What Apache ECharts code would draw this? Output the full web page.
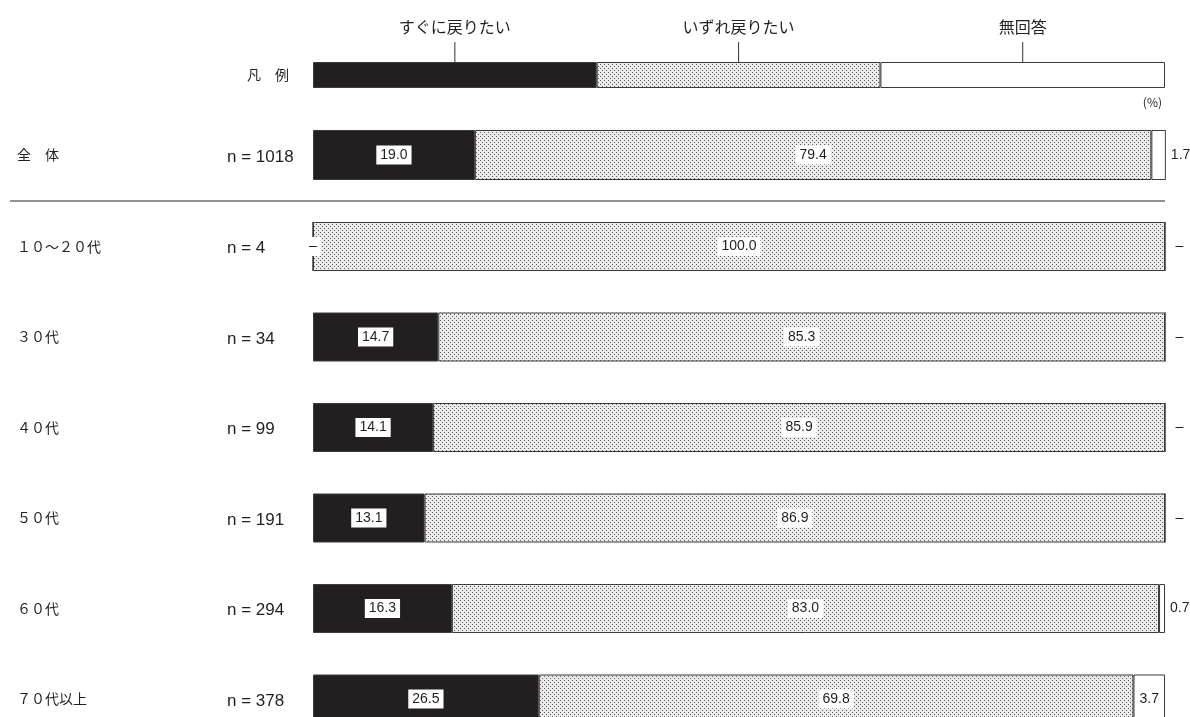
<!DOCTYPE html>
<html>
<head>
<meta charset="utf-8">
<script src="https://cdn.jsdelivr.net/npm/echarts@6/dist/echarts.min.js"></script>
<style>
html,body{margin:0;padding:0;background:#fff;}
#chart{width:1190px;height:717px;}
</style>
</head>
<body>
<div id="chart"></div>
<script>
// ---- data ----
const SERIES_NAMES = ['すぐに戻りたい', 'いずれ戻りたい', '無回答'];
const LEGEND_SHARE = [33.3, 33.3, 33.4];
const TOTAL_LABEL = ['全　体'];
const TOTAL_N = [1018];
const TOTAL_SOON = [19.0];
const TOTAL_LATER = [79.4];
const TOTAL_NA = [1.7];
const AGE_LABELS = ['１０～２０代', '３０代', '４０代', '５０代', '６０代', '７０代以上'];
const AGE_N = [4, 34, 99, 191, 294, 378];
const AGE_SOON = [0, 14.7, 14.1, 13.1, 16.3, 26.5];
const AGE_LATER = [100.0, 85.3, 85.9, 86.9, 83.0, 69.8];
const AGE_NA = [0, 0, 0, 0, 0.7, 3.7];

// ---- styles ----
const BLACK = '#231f20';
const BORDER = '#3a3a3a';
function makeDots() {
  const c = document.createElement('canvas');
  c.width = 4; c.height = 4;
  const g = c.getContext('2d');
  g.fillStyle = '#ebebeb';
  g.fillRect(0, 0, 4, 4);
  g.fillStyle = '#5a5a5a';
  g.fillRect(0, 0, 1, 1);
  g.fillRect(2, 2, 1, 1);
  return c;
}
const DOTS = { image: makeDots(), repeat: 'repeat' };
const FILLS = [BLACK, DOTS, '#ffffff'];
const NUM_FONT = '"Liberation Sans Narrow", "Arial Narrow", "Liberation Sans", sans-serif';
const JP_FONT = '"Noto Sans CJK JP", sans-serif';

function fmt(v) { return v === 0 ? '–' : v.toFixed(1); }

const boxLabel = {
  show: true,
  position: 'inside',
  fontFamily: NUM_FONT,
  fontSize: 14,
  color: BLACK,
  backgroundColor: '#fff',
  padding: [3, 4, 2, 4],
  formatter: p => fmt(p.value)
};

function naData(arr) {
  return arr.map(v => {
    if (v >= 3) {
      return { value: v, label: { position: 'inside', distance: 0 } };
    }
    return { value: v, label: { position: 'right', distance: v === 0 ? 10 : 5 } };
  });
}
const naLabel = {
  show: true,
  position: 'right',
  fontFamily: NUM_FONT,
  fontSize: 14,
  color: BLACK,
  formatter: p => fmt(p.value)
};

const baseItem = i => ({ color: FILLS[i], borderColor: BORDER, borderWidth: 1 });

const series = [];
// legend row
SERIES_NAMES.forEach((name, i) => {
  series.push({
    type: 'bar', name: name, stack: 'legend', xAxisIndex: 0, yAxisIndex: 0,
    barWidth: 26, data: [LEGEND_SHARE[i]], itemStyle: baseItem(i),
    label: {
      show: true, position: 'top', distance: 0,
      formatter: () => '{t|' + name + '}\n{l| }',
      rich: {
        t: { fontFamily: JP_FONT, fontSize: 16, color: BLACK, lineHeight: 18, padding: [0, 0, 12, 0], align: 'center' },
        l: { width: 1, height: 20, backgroundColor: '#333', align: 'center', fontSize: 1 }
      }
    },
    silent: true
  });
});
// total row
const totalSets = [TOTAL_SOON, TOTAL_LATER, TOTAL_NA];
totalSets.forEach((arr, i) => {
  series.push({
    type: 'bar', name: SERIES_NAMES[i], stack: 'total', xAxisIndex: 1, yAxisIndex: 1,
    barWidth: 50, itemStyle: baseItem(i), clip: false,
    data: i === 2 ? naData(arr) : arr,
    label: i === 2 ? naLabel : boxLabel
  });
});
// age rows
const ageSets = [AGE_SOON, AGE_LATER, AGE_NA];
ageSets.forEach((arr, i) => {
  series.push({
    type: 'bar', name: SERIES_NAMES[i], stack: 'age', xAxisIndex: 2, yAxisIndex: 2,
    barWidth: 49, itemStyle: baseItem(i), clip: false,
    data: i === 2 ? naData(arr) : arr,
    label: i === 2 ? naLabel : boxLabel
  });
});

const rowRich = {
  c: { fontFamily: JP_FONT, fontSize: 14, color: BLACK, width: 210, align: 'left', lineHeight: 20 },
  n: { fontFamily: '"Liberation Sans", Arial, sans-serif', fontSize: 17, color: BLACK, align: 'left', lineHeight: 20, padding: [4, 0, 0, 0] }
};
const xAxisBase = gi => ({ type: 'value', gridIndex: gi, min: 0, max: 100, show: false });
const yAxisRow = (gi, data, nArr, gap) => ({
  type: 'category', gridIndex: gi, data: data, inverse: true, boundaryGap: gap,
  axisLine: { show: false }, axisTick: { show: false },
  axisLabel: {
    margin: 296, align: 'left',
    formatter: (v, idx) => '{c|' + v + '}{n|n = ' + nArr[idx] + '}',
    rich: rowRich
  }
});

const option = {
  animation: false,
  backgroundColor: '#fff',
  grid: [
    { left: 313, right: 25, top: 62, height: 26 },
    { left: 313, right: 25, top: 130, height: 50 },
    { left: 313, right: 25, top: 246.5, height: 452.5 }
  ],
  xAxis: [xAxisBase(0), xAxisBase(1), xAxisBase(2)],
  yAxis: [
    {
      type: 'category', gridIndex: 0, data: ['凡　例'],
      axisLine: { show: false }, axisTick: { show: false },
      axisLabel: { margin: 24, fontFamily: JP_FONT, fontSize: 14, color: BLACK }
    },
    yAxisRow(1, TOTAL_LABEL, TOTAL_N, true),
    yAxisRow(2, AGE_LABELS, AGE_N, false)
  ],
  graphic: [
    {
      type: 'line', silent: true,
      shape: { x1: 10, y1: 201, x2: 1165, y2: 201 },
      style: { stroke: '#222', lineWidth: 1.2 }
    },
    {
      type: 'text', right: 28, top: 96,
      style: { text: '(%)', fontFamily: JP_FONT, fontSize: 12, fill: BLACK }
    }
  ],
  series: series
};

const chart = echarts.init(document.getElementById('chart'), null, { renderer: 'canvas' });
chart.setOption(option);
</script>
</body>
</html>
